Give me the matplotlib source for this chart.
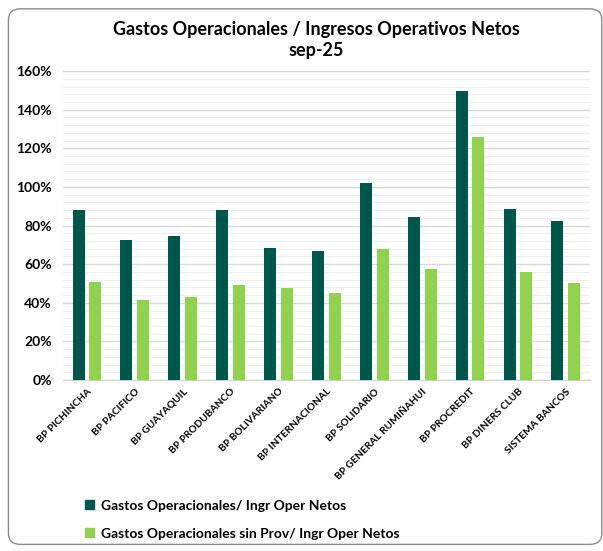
import matplotlib
matplotlib.use("Agg")
import matplotlib.pyplot as plt
import numpy as np
from matplotlib.patches import FancyBboxPatch, Patch
from matplotlib.ticker import MultipleLocator, PercentFormatter

categories = ["BP PICHINCHA", "BP PACIFICO", "BP GUAYAQUIL", "BP PRODUBANCO",
              "BP BOLIVARIANO", "BP INTERNACIONAL", "BP SOLIDARIO",
              "BP GENERAL RUMIÑAHUI", "BP PROCREDIT", "BP DINERS CLUB",
              "SISTEMA BANCOS"]
gastos = [88.2, 72.5, 74.7, 88.2, 68.4, 67.0, 102.2, 84.4, 149.8, 88.7, 82.6]
gastos_sin_prov = [50.7, 41.4, 42.8, 49.4, 47.6, 44.9, 68.0, 57.5, 125.8, 55.9, 50.2]
series_names = ["Gastos Operacionales/ Ingr Oper Netos",
                "Gastos Operacionales sin Prov/ Ingr Oper Netos"]
title = "Gastos Operacionales / Ingresos Operativos Netos\nsep-25"

dark = "#00564A"
light = "#92D050"
font = ["Lato", "DejaVu Sans"]
plt.rcParams["font.family"] = font

fig = plt.figure(figsize=(6.03, 5.51), dpi=100)
fig.patch.set_facecolor("white")

frame = FancyBboxPatch((0.014, 0.012), 0.984, 0.972,
                       boxstyle="round,pad=0,rounding_size=0.02",
                       transform=fig.transFigure, facecolor="none",
                       edgecolor="#8c8c8c", linewidth=1.0, zorder=-5)
fig.patches.append(frame)

ax = fig.add_axes([0.1045, 0.3103, 0.8735, 0.5607])
ax.set_zorder(2)
ax.set_facecolor("none")
x = np.arange(len(categories))
w = 0.25
ax.bar(x - 0.175, gastos, width=w, color=dark, zorder=3)
ax.bar(x + 0.175, gastos_sin_prov, width=w, color=light, zorder=3)

ax.set_xlim(-0.5, len(categories) - 0.5)
ax.set_ylim(0, 160)
ax.yaxis.set_major_locator(MultipleLocator(20))
ax.yaxis.set_minor_locator(MultipleLocator(4))
ax.yaxis.set_major_formatter(PercentFormatter(decimals=0))
ax.grid(axis="y", which="major", color="#d9d9d9", linewidth=1.0, zorder=0)
ax.grid(axis="y", which="minor", color="#efefef", linewidth=0.8, zorder=0)
ax.set_axisbelow(True)
for s in ["top", "right", "left"]:
    ax.spines[s].set_visible(False)
ax.spines["bottom"].set_color("#d0d0d0")
ax.tick_params(axis="y", which="both", length=0, labelsize=10, pad=8)
ax.tick_params(axis="x", length=0, pad=5)
for lbl in ax.get_yticklabels():
    lbl.set_fontweight("bold")
ax.set_xticks(x)
ax.set_xticklabels(categories, rotation=45, ha="right", rotation_mode="anchor",
                   fontsize=7.3, fontweight="bold")

fig.text(0.524, 0.962, title, ha="center", va="top", fontsize=13,
         fontweight="bold", linespacing=1.3)

handles = [Patch(color=dark), Patch(color=light)]
leg = fig.legend(handles, series_names, loc="upper left",
                 bbox_to_anchor=(0.121, 0.116), frameon=False,
                 prop={"size": 10, "weight": "bold"},
                 handlelength=0.65, handleheight=0.65,
                 handletextpad=0.45, labelspacing=1.15)

fig.savefig("out.png", dpi=100)
